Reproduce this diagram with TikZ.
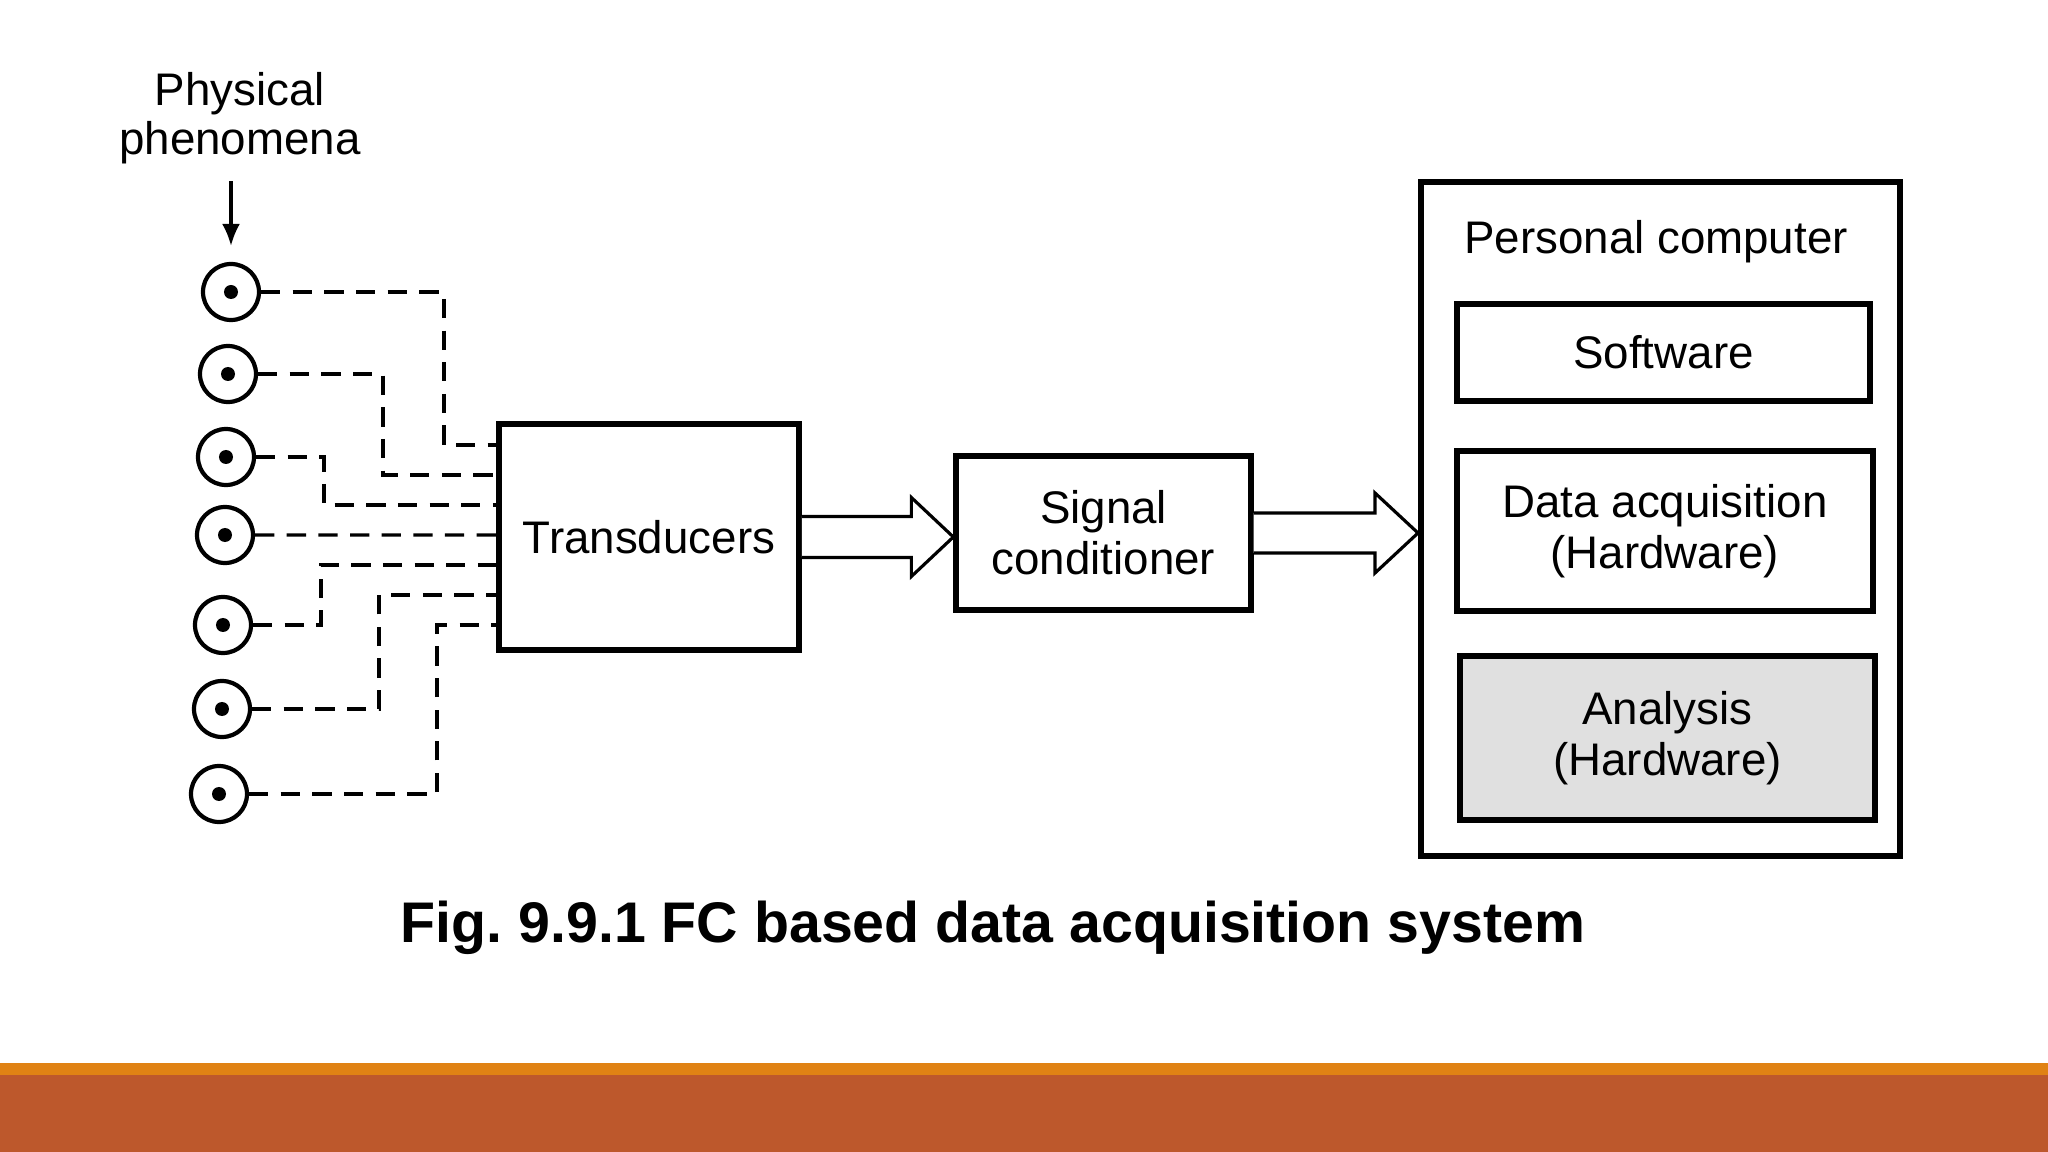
\documentclass[tikz,border=0pt]{standalone}
\usepackage{fontspec}
\setmainfont{Liberation Sans}
\usepackage{xcolor}
\usetikzlibrary{arrows.meta,positioning,calc}
\definecolor{bandorange}{HTML}{E08214}
\definecolor{bandrust}{HTML}{BD582C}

\begin{document}
\begin{tikzpicture}[
  font=\fontsize{13pt}{14.5pt}\selectfont,
  block/.style={draw, line width=1.5pt, align=center, inner sep=0pt},
  sensor/.style={circle, draw, line width=1.2pt, minimum size=5.6mm, inner sep=0pt,
    path picture={\fill (path picture bounding box.center) circle (0.07);}},
  wire/.style={line width=0.9pt, dash pattern=on 5.5pt off 3.5pt},
  fatarrow/.style={line width=0.9pt, fill=white, line join=miter},
  pharrow/.style={-{Latex[length=2.2mm,width=1.8mm]}, line width=0.9pt}
]
\useasboundingbox (0,0) rectangle (20.48,-11.52);
\fill[white] (0,0) rectangle (20.48,-10.63);
\fill[bandorange] (0,-10.63) rectangle (20.48,-10.75);
\fill[bandrust] (0,-10.75) rectangle (20.48,-11.52);

% blocks
\node[block, line width=1.7pt, minimum width=3.0cm, minimum height=2.26cm] (trans) at (6.49,-5.37) {Transducers};
\node[block, minimum width=2.95cm, minimum height=1.54cm] (sig) at (11.035,-5.33) {Signal\\conditioner};
\node[block, line width=1.7pt, minimum width=4.79cm, minimum height=6.74cm] (pc) at (16.605,-5.19) {};
\node (pclabel) at (16.56,-2.42) {Personal computer};
\node[block, minimum width=4.13cm, minimum height=0.97cm] (soft) at (16.635,-3.525) {Software};
\node[block, minimum width=4.16cm, minimum height=1.60cm] (daq) at (16.65,-5.31) {Data acquisition\\(Hardware)};
\node[block, fill=black!12, minimum width=4.15cm, minimum height=1.64cm] (ana) at (16.675,-7.38) {Analysis\\(Hardware)};

% sensors
\node[align=center, font=\fontsize{13pt}{14pt}\selectfont] (phys) at (2.40,-1.18) {Physical\\phenomena};
\node[sensor] (s1) at (2.31,-2.92) {};
\node[sensor] (s2) at (2.28,-3.74) {};
\node[sensor] (s3) at (2.26,-4.57) {};
\node[sensor] (s4) at (2.25,-5.35) {};
\node[sensor] (s5) at (2.23,-6.25) {};
\node[sensor] (s6) at (2.22,-7.09) {};
\node[sensor] (s7) at (2.19,-7.94) {};
\draw[pharrow, shorten <=0.5mm, shorten >=1.6mm] (phys.south -| s1.north) -- (s1.north);

\coordinate (in1) at ($(trans.west)+(0,0.92)$);
\coordinate (in2) at ($(trans.west)+(0,0.62)$);
\coordinate (in3) at ($(trans.west)+(0,0.32)$);
\coordinate (in4) at ($(trans.west)+(0,0.02)$);
\coordinate (in5) at ($(trans.west)+(0,-0.28)$);
\coordinate (in6) at ($(trans.west)+(0,-0.58)$);
\coordinate (in7) at ($(trans.west)+(0,-0.88)$);

\draw[wire] (s1.east) -| ($(in1)+(-0.52,0)$) -- (in1);
\draw[wire] (s2.east) -| ($(in2)+(-1.13,0)$) -- (in2);
\draw[wire] (s3.east) -| ($(in3)+(-1.72,0)$) -- (in3);
\draw[wire] (s4.east) -- (in4);
\draw[wire] (s5.east) -| ($(in5)+(-1.75,0)$) -- (in5);
\draw[wire] (s6.east) -| ($(in6)+(-1.17,0)$) -- (in6);
\draw[wire] (s7.east) -| ($(in7)+(-0.59,0)$) -- (in7);

% hollow arrows
\draw[fatarrow] ($(trans.east)+(0,0.205)$) -- ($(sig.west |- trans.east)+(-0.42,0.205)$) -- ++(0,0.19)
  -- (sig.west |- trans.east) -- ++(-0.42,-0.395) -- ++(0,0.19) -- ($(trans.east)+(0,-0.205)$);
\draw[fatarrow] ($(sig.east)+(0,0.20)$) -- ($(pc.west |- sig.east)+(-0.43,0.20)$) -- ++(0,0.20)
  -- (pc.west |- sig.east) -- ++(-0.43,-0.40) -- ++(0,0.20) -- ($(sig.east)+(0,-0.20)$);

\node[anchor=base, font=\bfseries\fontsize{16.3pt}{18pt}\selectfont] (caption) at (9.93,-9.43) {Fig.\ 9.9.1 FC based data acquisition system};
\end{tikzpicture}
\end{document}
